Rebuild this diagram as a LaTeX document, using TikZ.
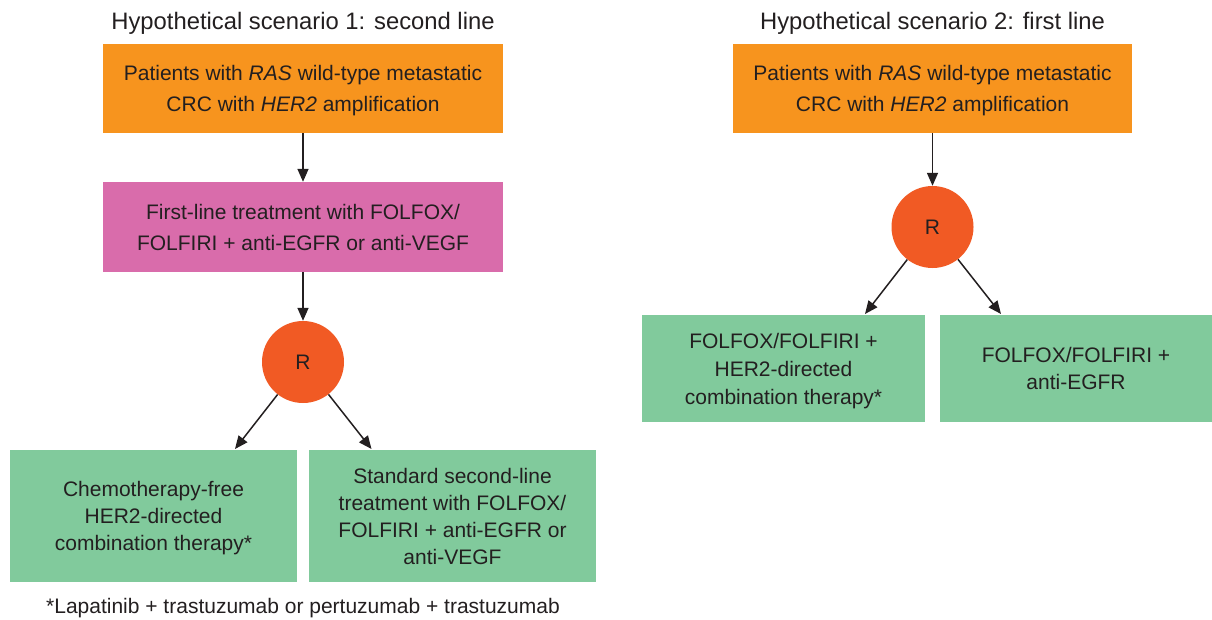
\documentclass[tikz,border=0pt]{standalone}
\usepackage{fontspec}
\setmainfont{Liberation Sans}
\usetikzlibrary{arrows.meta}
\definecolor{txt}{HTML}{231F20}
\definecolor{orangebox}{HTML}{F7941E}
\definecolor{pinkbox}{HTML}{D96CAB}
\definecolor{greenbox}{HTML}{81CA9C}
\definecolor{redcirc}{HTML}{F15A24}
\tikzset{
  flowbox/.style={rectangle, inner sep=0pt, align=center, text=txt, text depth=0pt,
    font=\fontsize{21}{31}\selectfont},
  orangestep/.style={flowbox, fill=orangebox, minimum width=400pt, minimum height=89pt},
  pinkstep/.style={flowbox, fill=pinkbox, minimum width=400pt, minimum height=90pt},
  greenstep/.style={flowbox, fill=greenbox, font=\fontsize{21}{27}\selectfont},
  randnode/.style={circle, fill=redcirc, inner sep=0pt, minimum size=82pt,
    text=txt, font=\fontsize{21}{25}\selectfont},
  titletext/.style={inner sep=0pt, text=txt, anchor=base, font=\fontsize{23.8}{28}\selectfont},
  notetext/.style={inner sep=0pt, text=txt, anchor=base, font=\fontsize{21}{25}\selectfont},
  flowarrow/.style={draw=txt, line width=1.5pt, -{Triangle[length=13pt,width=11pt]}}
}
\begin{document}
\begin{tikzpicture}[x=1pt,y=-1pt]
\useasboundingbox (0,0) rectangle (1212,619);
% Scenario 1
\node[titletext] (t1) at (303,29.5) {Hypothetical scenario 1: second line};
\node[orangestep] (a1) at (303,88.5) {Patients with \textit{RAS} wild-type metastatic\\CRC with \textit{HER2} amplification};
\node[pinkstep] (b1) at (303,227) {First-line treatment with FOLFOX/\\FOLFIRI + anti-EGFR or anti-VEGF};
\node[randnode] (r1) at (303,362) {R};
\node[greenstep, minimum width=287pt, minimum height=132pt] (c1) at (153.5,516) {Chemotherapy-free\\HER2-directed\\combination therapy*};
\node[greenstep, minimum width=287pt, minimum height=132pt] (d1) at (452.5,516) {Standard second-line\\treatment with FOLFOX/\\FOLFIRI + anti-EGFR or\\anti-VEGF};
\node[notetext] (n1) at (303,613) {*Lapatinib + trastuzumab or pertuzumab + trastuzumab};
\coordinate (e1l) at (235,449);
\coordinate (e1r) at (371.5,449);
\draw[flowarrow] (a1.south) -- (b1.north);
\draw[flowarrow] (b1.south) -- (r1.north);
\draw[flowarrow] (r1) -- (e1l);
\draw[flowarrow] (r1) -- (e1r);
% Scenario 2
\node[titletext] (t2) at (932.5,29.5) {Hypothetical scenario 2: first line};
\node[orangestep, minimum width=399pt] (a2) at (932.5,88.5) {Patients with \textit{RAS} wild-type metastatic\\CRC with \textit{HER2} amplification};
\node[randnode] (r2) at (932.5,227) {R};
\node[greenstep, minimum width=283pt, minimum height=107pt, font=\fontsize{21}{28}\selectfont] (c2) at (783.5,368.5) {FOLFOX/FOLFIRI +\\HER2-directed\\combination therapy*};
\node[greenstep, minimum width=272pt, minimum height=107pt] (d2) at (1076,368.5) {FOLFOX/FOLFIRI +\\anti-EGFR};
\coordinate (e2l) at (865,314);
\coordinate (e2r) at (1001,314);
\draw[flowarrow] (a2.south) -- (r2.north);
\draw[flowarrow] (r2) -- (e2l);
\draw[flowarrow] (r2) -- (e2r);
\end{tikzpicture}
\end{document}
